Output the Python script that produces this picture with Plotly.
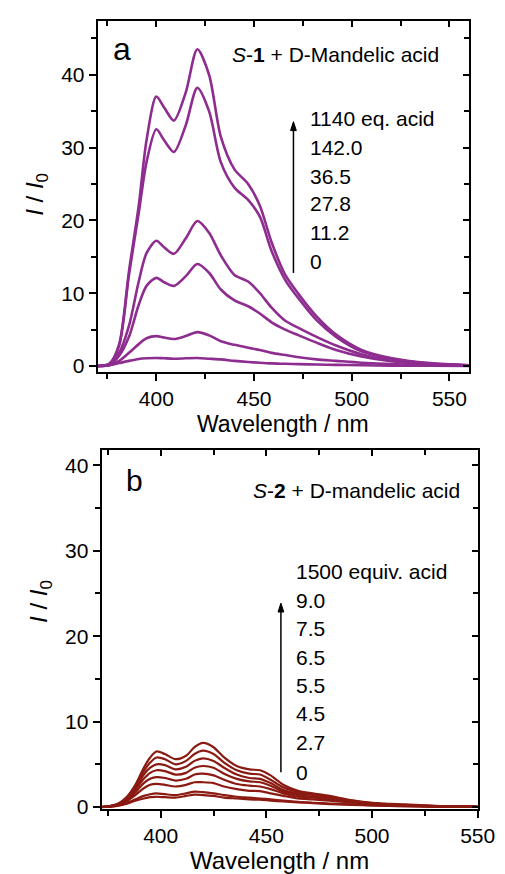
import plotly.graph_objects as go

# ---------------- data: panel a (S-1 + D-Mandelic acid) ----------------
wl_a = [370, 376, 381, 386, 391, 395, 400, 404, 409, 415, 421, 427, 433, 440,
        447, 453, 459, 466, 473, 482, 492, 505, 520, 540, 560]
a_1140 = [0, 0.3, 3, 13, 22, 31, 37, 35.5, 33.7, 37.5, 43.5, 40, 31.5, 27,
          25, 22, 17, 12.5, 9.8, 6.8, 4.3, 2.2, 1.1, 0.4, 0.1]
a_142 = [0, 0.3, 2.8, 12.5, 21, 28, 32.5, 31, 29.4, 33, 38.2, 35, 28, 24.5,
         22.8, 20.5, 15.8, 11.8, 9.2, 6.3, 4, 2, 1, 0.35, 0.1]
a_36_5 = [0, 0.2, 1.8, 5.5, 11.6, 15.5, 17.2, 16.3, 15.4, 17.5, 19.9, 18.3, 15.2, 12.5,
          11.6, 10, 8, 6.2, 5.2, 4, 2.8, 1.6, 0.8, 0.3, 0.1]
a_27_8 = [0, 0.15, 1.4, 4, 8.4, 11, 12.1, 11.5, 11, 12.3, 14, 12.8, 10.5, 9,
          8.2, 7.2, 6, 5, 4.2, 3.2, 2.2, 1.3, 0.65, 0.25, 0.05]
a_11_2 = [0, 0.1, 0.7, 1.8, 3, 3.8, 4.1, 3.9, 3.7, 4.1, 4.65, 4.2, 3.4, 2.9,
          2.5, 2.2, 1.8, 1.5, 1.2, 0.9, 0.7, 0.45, 0.25, 0.1, 0.03]
a_0 = [0, 0.1, 0.4, 0.7, 0.95, 1.05, 1.1, 1.05, 1.0, 1.05, 1.1, 1.0, 0.9, 0.7,
       0.55, 0.45, 0.35, 0.3, 0.25, 0.2, 0.15, 0.1, 0.05, 0.02, 0.0]
series_a = [a_0, a_11_2, a_27_8, a_36_5, a_142, a_1140]
labels_a = ["1140 eq. acid", "142.0", "36.5", "27.8", "11.2", "0"]

# ---------------- data: panel b (S-2 + D-mandelic acid) ----------------
wl_b = [372, 376, 380, 384, 388, 392, 395, 398, 402, 407, 412, 416, 420, 425,
        430, 436, 442, 447, 452, 458, 465, 472, 480, 490, 500, 515, 530, 550]
b_1500 = [0, 0.1, 0.4, 1.2, 2.6, 4.6, 5.8, 6.5, 6.2, 5.6, 6.0, 7.0, 7.5, 7.0,
          5.8, 4.8, 4.4, 4.3, 3.7, 2.6, 1.9, 1.6, 1.3, 0.8, 0.5, 0.3, 0.15, 0.05]
b_9_0 = [0, 0.1, 0.4, 1.1, 2.4, 4.2, 5.2, 5.8, 5.6, 5.0, 5.4, 6.2, 6.6, 6.2,
         5.2, 4.3, 3.9, 3.8, 3.2, 2.3, 1.8, 1.5, 1.2, 0.75, 0.45, 0.25, 0.12, 0.04]
b_7_5 = [0, 0.1, 0.35, 1.0, 2.2, 3.8, 4.6, 5.0, 4.9, 4.4, 4.7, 5.4, 5.7, 5.4,
         4.6, 3.8, 3.4, 3.3, 2.8, 2.0, 1.6, 1.4, 1.1, 0.7, 0.4, 0.22, 0.1, 0.03]
b_6_5 = [0, 0.1, 0.3, 0.9, 2.0, 3.3, 4.0, 4.3, 4.2, 3.8, 4.0, 4.6, 4.8, 4.6,
         3.9, 3.3, 3.0, 2.9, 2.5, 1.8, 1.4, 1.2, 1.0, 0.65, 0.38, 0.2, 0.1, 0.03]
b_5_5 = [0, 0.08, 0.3, 0.8, 1.7, 2.8, 3.3, 3.5, 3.4, 3.1, 3.3, 3.8, 3.9, 3.7,
         3.2, 2.7, 2.5, 2.4, 2.1, 1.6, 1.2, 1.1, 0.9, 0.6, 0.35, 0.18, 0.08, 0.02]
b_4_5 = [0, 0.07, 0.25, 0.7, 1.4, 2.2, 2.6, 2.7, 2.6, 2.4, 2.6, 2.9, 2.9, 2.8,
         2.4, 2.1, 1.9, 1.85, 1.6, 1.3, 1.0, 0.9, 0.75, 0.5, 0.3, 0.15, 0.07, 0.02]
b_2_7 = [0, 0.05, 0.2, 0.5, 0.9, 1.3, 1.5, 1.6, 1.5, 1.4, 1.6, 1.8, 1.75, 1.6,
         1.4, 1.2, 1.1, 1.0, 0.9, 0.75, 0.6, 0.5, 0.4, 0.3, 0.2, 0.1, 0.05, 0.02]
b_0 = [0, 0.05, 0.15, 0.4, 0.75, 1.0, 1.15, 1.2, 1.15, 1.1, 1.3, 1.45, 1.4, 1.3,
       1.1, 1.0, 0.9, 0.85, 0.75, 0.65, 0.55, 0.45, 0.35, 0.25, 0.18, 0.1, 0.05, 0.02]
series_b = [b_0, b_2_7, b_4_5, b_5_5, b_6_5, b_7_5, b_9_0, b_1500]
labels_b = ["1500 equiv. acid", "9.0", "7.5", "6.5", "5.5", "4.5", "2.7", "0"]

xticks_a = [400, 450, 500, 550]
yticks_a = [0, 10, 20, 30, 40]
xticks_b = [400, 450, 500, 550]
yticks_b = [0, 10, 20, 30, 40]

COL_A = "#8E2D90"
COL_B = "#8A1A12"
FONT = "Arial, Liberation Sans, sans-serif"
W, H = 505, 874

fig = go.Figure()
for s in series_a:
    fig.add_trace(go.Scatter(x=wl_a, y=s, mode="lines", xaxis="x", yaxis="y",
                             line=dict(color=COL_A, width=2.6, shape="spline", smoothing=0.8),
                             showlegend=False, hoverinfo="skip"))
for s in series_b:
    fig.add_trace(go.Scatter(x=wl_b, y=s, mode="lines", xaxis="x2", yaxis="y2",
                             line=dict(color=COL_B, width=2.2, shape="spline", smoothing=0.8),
                             showlegend=False, hoverinfo="skip"))
# dummy traces for the inward mirror axes
fig.add_trace(go.Scatter(x=[None], y=[None], xaxis="x3", yaxis="y3", showlegend=False))
fig.add_trace(go.Scatter(x=[None], y=[None], xaxis="x4", yaxis="y4", showlegend=False))


def px2x(p):
    return p / W


def py2y(p):
    return 1 - p / H


dom_ax = [px2x(93), px2x(478)]
dom_ay = [py2y(368), py2y(13)]
dom_bx = [px2x(97), px2x(487)]
dom_by = [py2y(810), py2y(447)]
xr_a = [370, 560]
yr_a = [-0.8, 47.4]
xr_b = [372, 550]
yr_b = [-0.2, 41.8]

tickfont = dict(family=FONT, size=21, color="black")


def main_axis(domain, rng, tickvals, anchor, minor_dtick):
    return dict(domain=domain, range=rng, anchor=anchor, tickmode="array",
                tickvals=tickvals, ticks="outside", ticklen=7, tickwidth=1.6,
                tickcolor="black", showline=True, linewidth=2, linecolor="black",
                showgrid=False, zeroline=False, tickfont=tickfont,
                minor=dict(dtick=minor_dtick, tick0=0, ticks="outside", ticklen=5,
                           tickwidth=1.6, tickcolor="black", showgrid=False))


def mirror_axis(rng, tickvals, anchor, overlay, side, minor_dtick):
    return dict(range=rng, anchor=anchor, overlaying=overlay, side=side,
                tickmode="array", tickvals=tickvals, ticks="inside", ticklen=6,
                tickwidth=1.6, tickcolor="black", showline=True, linewidth=2,
                linecolor="black", showgrid=False, zeroline=False,
                showticklabels=False,
                minor=dict(dtick=minor_dtick, tick0=0, ticks="inside", ticklen=5,
                           tickwidth=1.6, tickcolor="black", showgrid=False))


fig.update_layout(
    width=W, height=H, margin=dict(l=0, r=0, t=0, b=0),
    paper_bgcolor="white", plot_bgcolor="white",
    xaxis=main_axis(dom_ax, xr_a, xticks_a, "y", 25),
    yaxis=main_axis(dom_ay, yr_a, yticks_a, "x", 5),
    xaxis2=main_axis(dom_bx, xr_b, xticks_b, "y2", 25),
    yaxis2=main_axis(dom_by, yr_b, yticks_b, "x2", 5),
    xaxis3=mirror_axis(xr_a, xticks_a, "y", "x", "top", 25),
    yaxis3=mirror_axis(yr_a, yticks_a, "x", "y", "right", 5),
    xaxis4=mirror_axis(xr_b, xticks_b, "y2", "x2", "top", 25),
    yaxis4=mirror_axis(yr_b, yticks_b, "x2", "y2", "right", 5),
)

ann = []


def txt(xp, yp, text, size=21, xanchor="left", angle=0, **kw):
    ann.append(dict(x=px2x(xp), y=py2y(yp), xref="paper", yref="paper", text=text,
                    showarrow=False, xanchor=xanchor, yanchor="middle", textangle=angle,
                    font=dict(family=FONT, size=size, color="black"), **kw))


# panel a texts
txt(118, 41, "a", size=32, xanchor="center")
txt(449, 47, "<i>S</i>-<b>1</b> + D-Mandelic acid", size=21, xanchor="right")
ys_a = [112, 141, 170, 198, 227, 256]
for lab, yy in zip(labels_a, ys_a):
    txt(311, yy, lab, size=21)
txt(30, 188, "<i>I</i> / <i>I</i><sub>0</sub>", size=24, xanchor="center", angle=-90)
txt(285, 421, "Wavelength / nm", size=23, xanchor="center")

# panel b texts
txt(131, 478, "b", size=30, xanchor="center")
txt(471, 488, "<i>S</i>-<b>2</b> + D-mandelic acid", size=21, xanchor="right")
ys_b = [570, 599, 628, 657, 685, 714, 743, 773]
for lab, yy in zip(labels_b, ys_b):
    txt(297, yy, lab, size=21)
txt(33, 600, "<i>I</i> / <i>I</i><sub>0</sub>", size=24, xanchor="center", angle=-90)
txt(282, 862, "Wavelength / nm", size=24, xanchor="center")

fig.update_layout(annotations=ann)

# arrows drawn as shapes: shaft + triangular head
shapes = []
for (xa, ytop, ybot) in [(296, 115, 268), (283, 602, 773)]:
    shapes.append(dict(type="line", xref="paper", yref="paper",
                       x0=px2x(xa), x1=px2x(xa), y0=py2y(ybot), y1=py2y(ytop + 6),
                       line=dict(color="black", width=1.5)))
    path = "M {} {} L {} {} L {} {} Z".format(
        px2x(xa), py2y(ytop), px2x(xa - 3), py2y(ytop + 9), px2x(xa + 3), py2y(ytop + 9))
    shapes.append(dict(type="path", xref="paper", yref="paper", path=path,
                       fillcolor="black", line=dict(color="black", width=1)))
fig.update_layout(shapes=shapes)

fig.write_html("out.html")
